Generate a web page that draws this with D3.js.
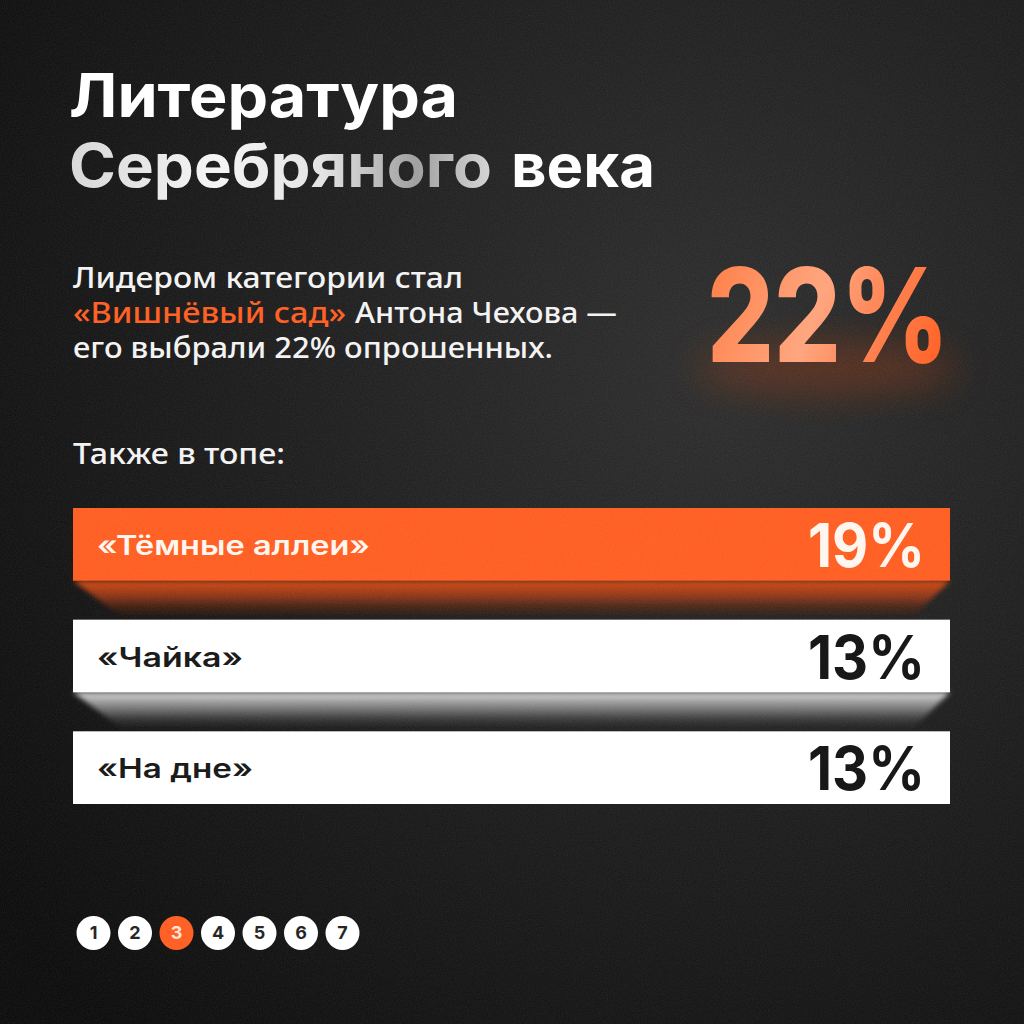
<!DOCTYPE html>
<html>
<head>
<meta charset="utf-8">
<script src="https://cdn.jsdelivr.net/npm/d3@7"></script>
<style>
  html, body { margin: 0; padding: 0; background: #111; }
  svg { display: block; }
</style>
</head>
<body>
<script>
// data
var titleLines = ["Литература", "Серебряного", "века"];
var leadLines = ["Лидером категории стал", "«Вишнёвый сад»", "Антона Чехова —", "его выбрали 22% опрошенных."];
var alsoLabel = "Также в топе:";
var leaderShare = 22;
var books = ["«Тёмные аллеи»", "«Чайка»", "«На дне»"];
var shares = [19, 13, 13];
var pages = [1, 2, 3, 4, 5, 6, 7];
var currentPage = 3;

var W = 1024, H = 1024;
var orange = "#ff5a1c";

var svg = d3.select("body").append("svg")
    .attr("width", W)
    .attr("height", H)
    .attr("viewBox", "0 0 " + W + " " + H);

var defs = svg.append("defs");

// background
var bg = defs.append("radialGradient")
    .attr("id", "bg")
    .attr("gradientUnits", "userSpaceOnUse")
    .attr("cx", 720).attr("cy", 360).attr("r", 900);
bg.append("stop").attr("offset", "0").attr("stop-color", "#2a2a2a");
bg.append("stop").attr("offset", "0.45").attr("stop-color", "#1a1a1a");
bg.append("stop").attr("offset", "1").attr("stop-color", "#070707");

var noise = defs.append("filter").attr("id", "noise")
    .attr("x", 0).attr("y", 0).attr("width", "100%").attr("height", "100%");
noise.append("feTurbulence")
    .attr("type", "fractalNoise")
    .attr("baseFrequency", 0.85)
    .attr("numOctaves", 2)
    .attr("stitchTiles", "stitch");
noise.append("feColorMatrix")
    .attr("type", "matrix")
    .attr("values", "0 0 0 0 1  0 0 0 0 1  0 0 0 0 1  0 0 0 0.09 0");

var soft = defs.append("filter").attr("id", "soft")
    .attr("x", "-10%").attr("y", "-20%").attr("width", "120%").attr("height", "140%");
soft.append("feGaussianBlur").attr("stdDeviation", 2.5);

var glow = defs.append("filter").attr("id", "glow")
    .attr("x", "-30%").attr("y", "-50%").attr("width", "160%").attr("height", "200%");
glow.append("feGaussianBlur").attr("stdDeviation", 18);

svg.append("rect")
    .attr("width", W).attr("height", H)
    .attr("fill", "url(#bg)");

// title
var silver = defs.append("linearGradient")
    .attr("id", "silver")
    .attr("gradientUnits", "userSpaceOnUse")
    .attr("x1", 69).attr("y1", 0).attr("x2", 492).attr("y2", 0);
silver.append("stop").attr("offset", "0").attr("stop-color", "#d6d6d6");
silver.append("stop").attr("offset", "0.35").attr("stop-color", "#f4f4f4");
silver.append("stop").attr("offset", "0.6").attr("stop-color", "#e2e2e2");
silver.append("stop").attr("offset", "0.82").attr("stop-color", "#9c9c9c");
silver.append("stop").attr("offset", "1").attr("stop-color", "#d4d4d4");

var titleFont = "Inter, 'Noto Sans', sans-serif";

svg.append("text")
    .text(titleLines[0])
    .attr("x", 69).attr("y", 117)
    .attr("font-family", titleFont)
    .attr("font-weight", 700)
    .attr("font-size", 60)
    .attr("textLength", 389)
    .attr("lengthAdjust", "spacingAndGlyphs")
    .attr("fill", "#ffffff");

svg.append("text")
    .text(titleLines[1])
    .attr("x", 69).attr("y", 187)
    .attr("font-family", titleFont)
    .attr("font-weight", 700)
    .attr("font-size", 60)
    .attr("textLength", 423)
    .attr("lengthAdjust", "spacingAndGlyphs")
    .attr("fill", "url(#silver)");

svg.append("text")
    .text(titleLines[2])
    .attr("x", 511).attr("y", 187)
    .attr("font-family", titleFont)
    .attr("font-weight", 700)
    .attr("font-size", 60)
    .attr("textLength", 144)
    .attr("lengthAdjust", "spacingAndGlyphs")
    .attr("fill", "#ffffff");

// lead paragraph
var bodyFont = "'Noto Sans', 'Open Sans', sans-serif";
var lead = svg.append("g")
    .attr("font-family", bodyFont)
    .attr("font-size", 28)
    .attr("font-weight", 500)
    .attr("fill", "#f2f2f2");

lead.append("text").text(leadLines[0])
    .attr("x", 73).attr("y", 288)
    .attr("textLength", 390).attr("lengthAdjust", "spacingAndGlyphs");
lead.append("text").text(leadLines[1])
    .attr("x", 73).attr("y", 323)
    .attr("fill", orange)
    .attr("textLength", 273).attr("lengthAdjust", "spacingAndGlyphs");
lead.append("text").text(leadLines[2])
    .attr("x", 355).attr("y", 323)
    .attr("textLength", 262).attr("lengthAdjust", "spacingAndGlyphs");
lead.append("text").text(leadLines[3])
    .attr("x", 73).attr("y", 358)
    .attr("textLength", 480).attr("lengthAdjust", "spacingAndGlyphs");

lead.append("text").text(alsoLabel)
    .attr("x", 73).attr("y", 464)
    .attr("textLength", 212).attr("lengthAdjust", "spacingAndGlyphs");

// big leader figure
var peach = defs.append("linearGradient")
    .attr("id", "peach")
    .attr("gradientUnits", "userSpaceOnUse")
    .attr("x1", 707).attr("y1", 268).attr("x2", 949).attr("y2", 362);
peach.append("stop").attr("offset", "0").attr("stop-color", "#ff7a40");
peach.append("stop").attr("offset", "0.45").attr("stop-color", "#ffa27a");
peach.append("stop").attr("offset", "0.7").attr("stop-color", "#ff7c48");
peach.append("stop").attr("offset", "1").attr("stop-color", "#ff5716");

svg.append("ellipse")
    .attr("cx", 828).attr("cy", 368)
    .attr("rx", 130).attr("ry", 26)
    .attr("fill", "#9c3810")
    .attr("opacity", 0.4)
    .attr("filter", "url(#glow)");

svg.append("text")
    .text(leaderShare + "%")
    .attr("x", 707).attr("y", 362)
    .attr("font-family", titleFont)
    .attr("font-weight", 800)
    .attr("font-size", 130)
    .attr("textLength", 242)
    .attr("lengthAdjust", "spacingAndGlyphs")
    .attr("fill", "url(#peach)");

// bars
var barLeft = 73, barRight = 950;
var y = d3.scaleBand()
    .domain(books)
    .range([508, 804])
    .paddingInner(0.349)
    .paddingOuter(0);
var gap = y.step() - y.bandwidth();

// label widths
var labelWidth = d3.scaleOrdinal()
    .domain(books)
    .range([273, 146, 156]);

var rows = books.map(function (b, i) {
  return { book: b, share: shares[i], lead: i === 0 };
});

var shadeO = defs.append("linearGradient")
    .attr("id", "shadeO").attr("x1", 0).attr("y1", 0).attr("x2", 0).attr("y2", 1);
shadeO.append("stop").attr("offset", "0").attr("stop-color", "#d94812").attr("stop-opacity", 1);
shadeO.append("stop").attr("offset", "0.45").attr("stop-color", "#a8380e").attr("stop-opacity", 0.75);
shadeO.append("stop").attr("offset", "1").attr("stop-color", "#3a160a").attr("stop-opacity", 0.1);

var shadeW = defs.append("linearGradient")
    .attr("id", "shadeW").attr("x1", 0).attr("y1", 0).attr("x2", 0).attr("y2", 1);
shadeW.append("stop").attr("offset", "0").attr("stop-color", "#dcdcdc").attr("stop-opacity", 1);
shadeW.append("stop").attr("offset", "0.5").attr("stop-color", "#8a8a8a").attr("stop-opacity", 0.7);
shadeW.append("stop").attr("offset", "1").attr("stop-color", "#222222").attr("stop-opacity", 0.1);

var row = svg.selectAll("g.row")
    .data(rows)
    .join("g")
    .attr("class", "row");

// underside shadow of each bar (not below the last one)
row.filter(function (d, i) { return i < rows.length - 1; })
  .append("path")
    .attr("d", function (d) {
      var t = y(d.book) + y.bandwidth();
      return "M" + barLeft + "," + t +
             "L" + barRight + "," + t +
             "L" + (barRight - 38) + "," + (t + gap - 2) +
             "L" + (barLeft + 50) + "," + (t + gap - 2) + "Z";
    })
    .attr("fill", function (d) { return d.lead ? "url(#shadeO)" : "url(#shadeW)"; })
    .attr("filter", "url(#soft)");

row.append("rect")
    .attr("x", barLeft)
    .attr("y", function (d) { return y(d.book); })
    .attr("width", barRight - barLeft)
    .attr("height", y.bandwidth())
    .attr("fill", function (d) { return d.lead ? orange : "#ffffff"; });

row.append("text")
    .text(function (d) { return d.book; })
    .attr("x", 97)
    .attr("y", function (d) { return y(d.book) + 47; })
    .attr("font-family", titleFont)
    .attr("font-weight", 600)
    .attr("font-size", 27)
    .attr("textLength", function (d) { return labelWidth(d.book); })
    .attr("lengthAdjust", "spacingAndGlyphs")
    .attr("fill", function (d) { return d.lead ? "#fff6ee" : "#111111"; });

row.append("text")
    .text(function (d) { return d.share + "%"; })
    .attr("x", 808)
    .attr("y", function (d) { return y(d.book) + 59; })
    .attr("font-family", titleFont)
    .attr("font-weight", 700)
    .attr("font-size", 60)
    .attr("textLength", 117)
    .attr("lengthAdjust", "spacingAndGlyphs")
    .attr("fill", function (d) { return d.lead ? "#fff6ee" : "#0d0d0d"; });

// pager
var px = d3.scaleLinear()
    .domain([1, 7])
    .range([93.5, 342.5]);

var dot = svg.selectAll("g.page")
    .data(pages)
    .join("g")
    .attr("class", "page")
    .attr("transform", function (d) { return "translate(" + px(d) + ",933)"; });

dot.append("circle")
    .attr("r", 17)
    .attr("fill", function (d) { return d === currentPage ? orange : "#ffffff"; });

dot.append("text")
    .text(function (d) { return d; })
    .attr("text-anchor", "middle")
    .attr("dy", "0.36em")
    .attr("font-family", titleFont)
    .attr("font-weight", 700)
    .attr("font-size", 18)
    .attr("fill", function (d) { return d === currentPage ? "#ffe3d2" : "#1c1c1c"; });

// grain over everything
svg.append("rect")
    .attr("width", W).attr("height", H)
    .attr("filter", "url(#noise)")
    .attr("pointer-events", "none");
</script>
</body>
</html>
